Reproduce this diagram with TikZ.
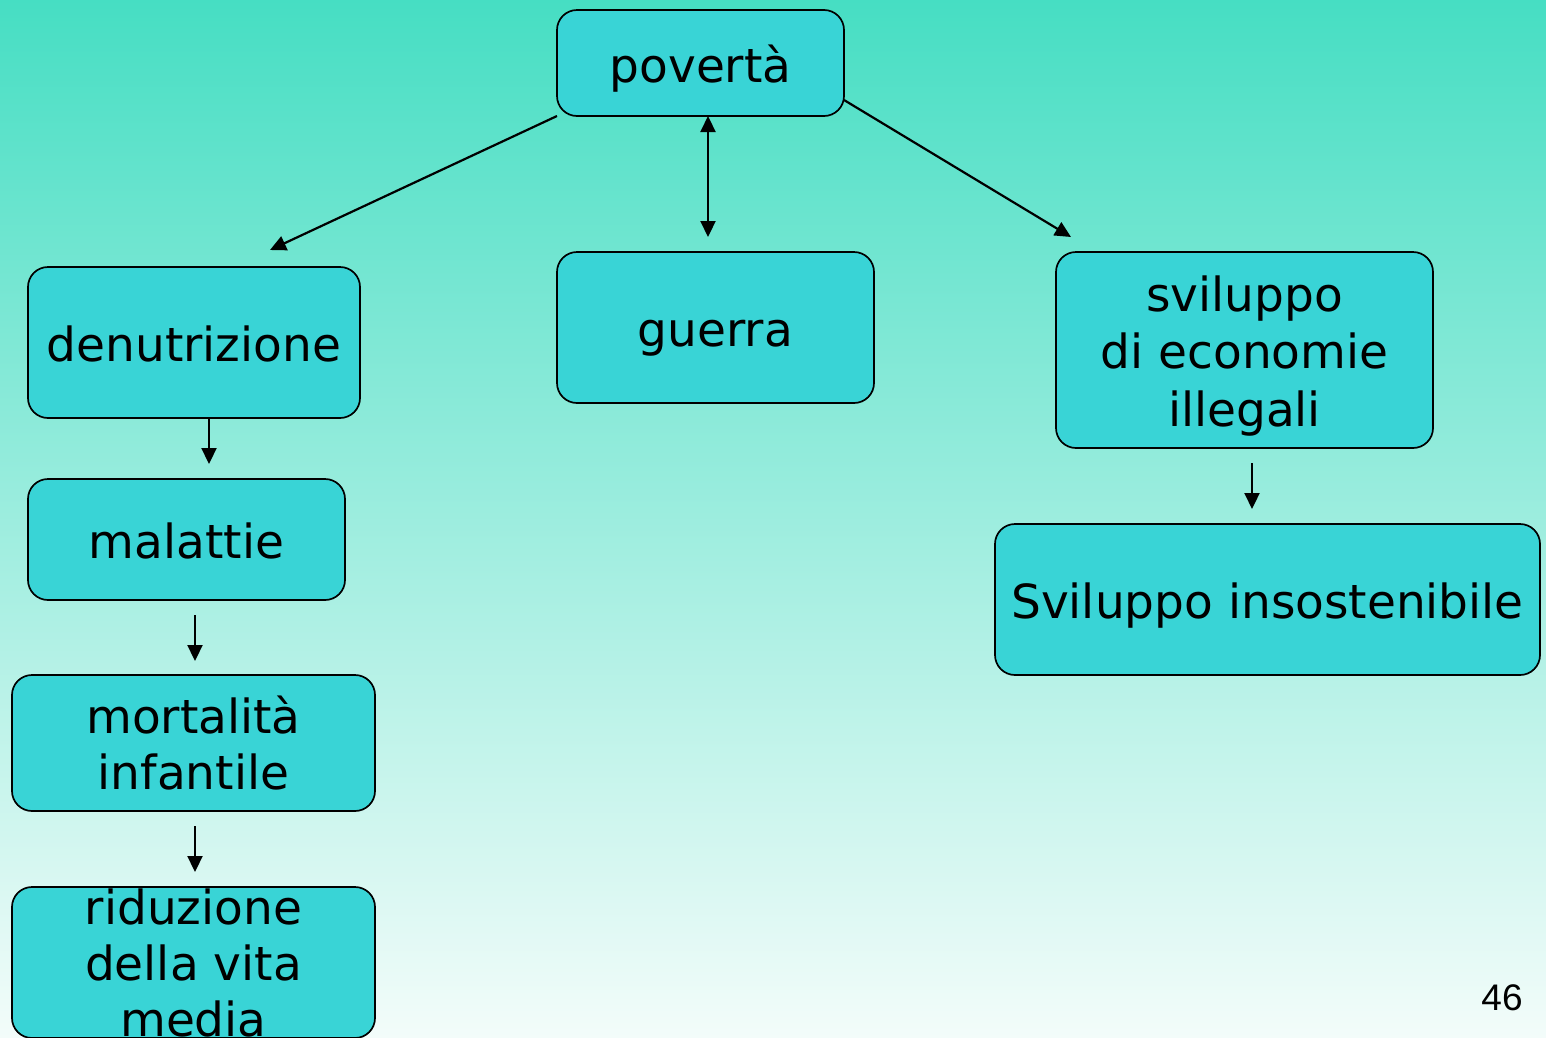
\documentclass[tikz,border=0pt]{standalone}
\usepackage{fontspec}
\setmainfont{DejaVu Sans}
\newfontfamily\numfont{Liberation Sans}
\usetikzlibrary{arrows.meta}
\definecolor{bgtop}{RGB}{70,222,195}
\definecolor{bgbot}{RGB}{243,252,250}
\definecolor{boxfill}{RGB}{57,212,214}
\tikzset{
  cbox/.style={draw=black, line width=1.7pt, fill=boxfill, rounded corners=20pt,
    inner sep=0pt, align=center, font=\fontsize{47}{56}\selectfont},
  oneline/.style={text height=38pt, text depth=0pt},
  ctext/.style={align=center, inner sep=0pt, font=\fontsize{47}{56}\selectfont},
  conn/.style={line width=2.2pt, -{Triangle[length=16pt,width=15pt]}},
  bconn/.style={line width=2.2pt, {Triangle[length=16pt,width=15pt]}-{Triangle[length=16pt,width=15pt]}}
}
\begin{document}
\begin{tikzpicture}[x=1pt,y=-1pt]
\useasboundingbox (0,0) rectangle (1546,1037);
\clip (0,0) rectangle (1546,1037);
\shade[top color=bgtop, bottom color=bgbot] (0,0) rectangle (1546,1037);

\node[cbox, oneline, minimum width=287pt, minimum height=106pt] (pov) at (700.5,63) {povertà};
\node[cbox, oneline, minimum width=332pt, minimum height=151pt] (denut) at (194,342.5) {denutrizione};
\node[cbox, oneline, minimum width=317pt, minimum height=151pt] (guerra) at (715.5,327.5) {guerra};
\node[cbox, minimum width=377pt, minimum height=196pt] (svil) at (1244.5,350) {};
\node[ctext, font=\fontsize{47}{57.5}\selectfont] (sviltxt) at ([yshift=-6pt]svil.center) {sviluppo\\di economie\\illegali};
\node[cbox, oneline, minimum width=317pt, minimum height=121pt] (malat) at (186.5,539.5) {malattie};
\node[cbox, minimum width=363pt, minimum height=136pt] (mort) at (193.5,743) {mortalità\\infantile};
\node[cbox, minimum width=363pt, minimum height=151pt] (ridu) at (193.5,962.5) {};
\node[ctext] (ridutxt) at (ridu.center) {riduzione\\della vita\\media};
\node[cbox, oneline, minimum width=545pt, minimum height=151pt] (insost) at (1267.5,599.5) {Sviluppo insostenibile};
\node[inner sep=0pt, font=\numfont\fontsize{37}{40}\selectfont] (num) at (1502,998) {46};

% free ends of connectors
\coordinate (denutTip) at (270,250);
\coordinate (guerraTip) at (708,237);
\coordinate (povBot) at (708,116);
\coordinate (svilTip) at (1071,237);
\coordinate (povR) at (844,100);
\coordinate (povL) at (557,116);
\coordinate (denutB) at (209,418);
\coordinate (malatTip) at (209,464);
\coordinate (malatB) at (195,615);
\coordinate (mortTip) at (195,661);
\coordinate (mortB) at (195,826);
\coordinate (riduTip) at (195,872);
\coordinate (svilB) at (1252,463);
\coordinate (insostTip) at (1252,509);

\draw[conn] (povL) -- (denutTip);
\draw[bconn] (povBot) -- (guerraTip);
\draw[conn] (povR) -- (svilTip);
\draw[conn] (denutB) -- (malatTip);
\draw[conn] (malatB) -- (mortTip);
\draw[conn] (mortB) -- (riduTip);
\draw[conn] (svilB) -- (insostTip);
\end{tikzpicture}
\end{document}
